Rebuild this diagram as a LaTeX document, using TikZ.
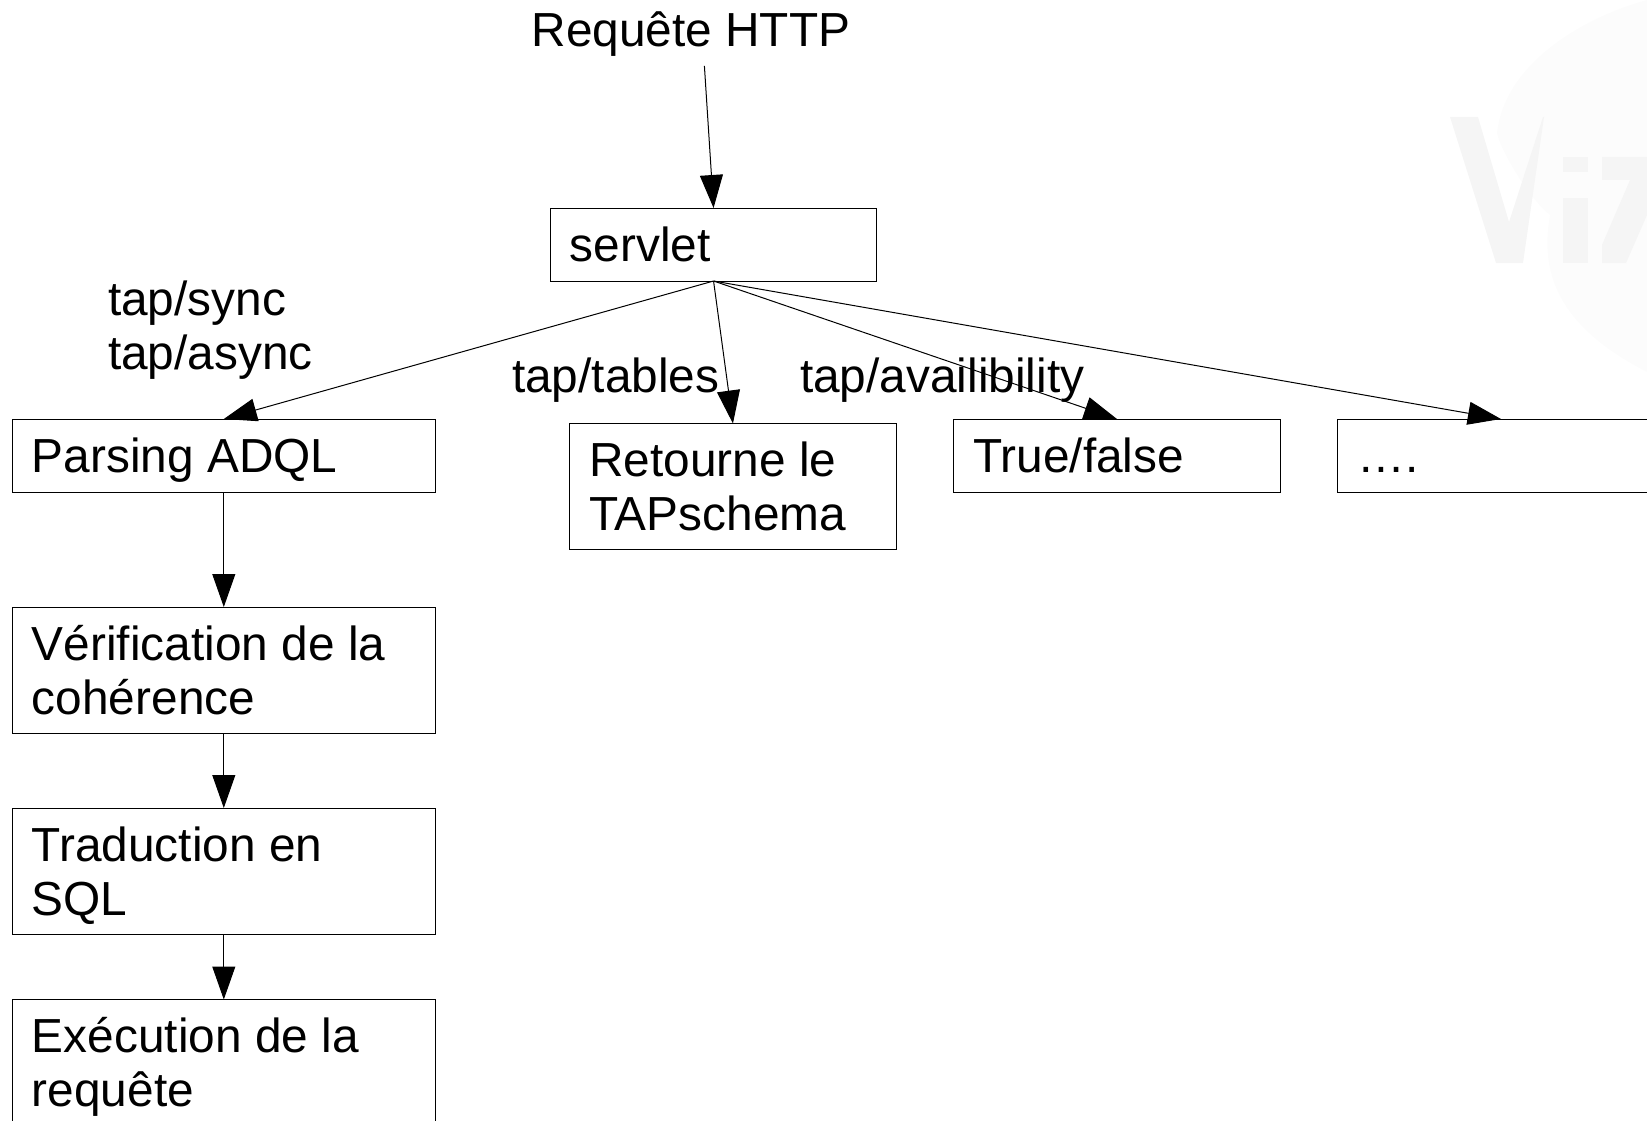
\documentclass[tikz,border=0pt]{standalone}
\usepackage{fontspec}
\setmainfont{Liberation Sans}
\usetikzlibrary{arrows.meta}
\definecolor{wmA}{HTML}{FCFCFC}
\definecolor{wmB}{HTML}{F5F5F5}
\newcommand{\lnst}{\rule[-9.6pt]{0pt}{53.6pt}}
\tikzset{
  x=1pt,y=-1pt,
  txt/.style={inner sep=0pt,outer sep=0pt,align=flush left,font=\fontsize{47.8}{53.6}\selectfont},
  lbl/.style={txt,anchor=north west},
  box/.style={txt,draw=black,line width=1pt,anchor=north west,inner xsep=19.5pt,text width=#1},
  box/.default=287.5pt,
  one/.style={minimum height=73pt},
  two/.style={minimum height=126pt},
  link/.style={line width=1pt,-{Triangle[length=33pt,width=23pt]}},
  wmfill/.style={fill=wmA,draw=none},
  wmtext/.style={fill=wmB,draw=none}
}
\begin{document}
\begin{tikzpicture}
\clip (0,0) rectangle (1647,1121);
% faint watermark, cut by the right edge
\path[wmfill] (1647,0) .. controls (1590,15) and (1505,60) .. (1497,133)
  .. controls (1500,150) and (1530,200) .. (1550,215)
  .. controls (1540,270) and (1555,325) .. (1647,372) -- cycle;
\path[wmtext] (1450,117) -- (1478,117) -- (1509,222) -- (1543,117) -- (1544,117) -- (1523,263) -- (1496,263) -- cycle;
\path[wmtext] (1563,157) rectangle (1588,172);
\path[wmtext] (1563,198) rectangle (1588,263);
\path[wmtext] (1602,157) -- (1647,157) -- (1647,215) -- (1626,263) -- (1602,263) -- (1602,245) -- (1630,180) -- (1602,180) -- cycle;
% boxes
\node[box=287.5pt,one] (servlet) at (550.3,208) {\lnst servlet};
\node[box=383.8pt,one] (parsing) at (12.4,419) {\lnst Parsing ADQL};
\node[box=383.8pt,two] (verif) at (12.4,607) {\lnst Vérification de la\\\lnst cohérence};
\node[box=383.8pt,two] (trad) at (12.4,808) {\lnst Traduction en\\\lnst SQL};
\node[box=383.8pt,two] (exec) at (12.4,999.5) {\lnst Exécution de la\\\lnst requête};
\node[box=287.5pt,two] (schema) at (569.7,423.5) {\lnst Retourne le\\\lnst TAPschema};
\node[box=287.5pt,one] (truefalse) at (953.7,419) {\lnst True/false};
\node[box=287.5pt,one] (dots) at (1337.7,419) {\lnst ….};
% free labels
\node[lbl] (req) at (531.5,3) {\lnst Requête HTTP};
\node[lbl] (sync) at (108,271) {\lnst tap/sync\\\lnst tap/async};
\node[lbl] (tables) at (512,348) {\lnst tap/tables};
\node[lbl] (avail) at (800,348) {\lnst tap/availibility};
% connectors
\draw[link] ([shift={(13.5,9)}]req.south) -- (servlet.north);
\draw[link] (servlet.south) -- (parsing.north);
\draw[link] (servlet.south) -- (schema.north);
\draw[link] (servlet.south) -- (truefalse.north);
\draw[link] (servlet.south) -- (dots.north);
\draw[link] (parsing.south) -- (verif.north);
\draw[link] (verif.south) -- (trad.north);
\draw[link] (trad.south) -- (exec.north);
\end{tikzpicture}
\end{document}
